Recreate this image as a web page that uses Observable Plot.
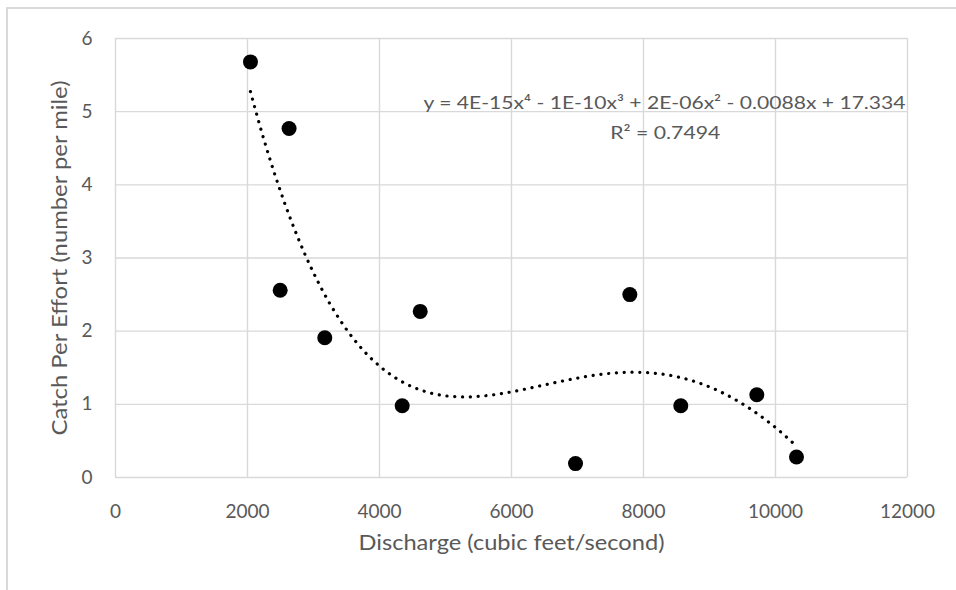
<!DOCTYPE html>
<html>
<head>
<meta charset="utf-8">
<script src="https://cdn.jsdelivr.net/npm/d3@7"></script>
<script src="https://cdn.jsdelivr.net/npm/@observablehq/plot@0.6"></script>
<style>
  html, body { margin: 0; padding: 0; background: #fff; overflow: hidden; width: 956px; height: 590px; }
  #frame { position: absolute; left: 6px; top: 7px; width: 1100px; height: 1100px; border: 2px solid #d9d9d9; box-sizing: border-box; }
  #chart { position: absolute; left: 0; top: 0; }
</style>
</head>
<body>
<div id="frame"></div>
<div id="chart"></div>
<script>
// Data
const discharge = [2045, 2630, 2495, 3171, 4344, 4617, 6970, 7793, 8565, 9717, 10318];
const cpue      = [5.68, 4.77, 2.56, 1.91, 0.98, 2.27, 0.19, 2.50, 0.98, 1.13, 0.28];
const xTicks = [0, 2000, 4000, 6000, 8000, 10000, 12000];
const yTicks = [0, 1, 2, 3, 4, 5, 6];
const equationText = "y = 4E-15x\u2074 - 1E-10x\u00B3 + 2E-06x\u00B2 - 0.0088x + 17.334";
const r2Text = "R\u00B2 = 0.7494";
const xTitle = "Discharge (cubic feet/second)";
const yTitle = "Catch Per Effort (number per mile)";

const points = discharge.map((x, i) => ({x, y: cpue[i]}));

// Least-squares polynomial (order 4) trendline, as the spreadsheet computes it
function polyfit(xs, ys, deg) {
  const s = 1000;
  const n = deg + 1;
  const A = Array.from({length: n}, () => new Array(n + 1).fill(0));
  xs.forEach((xv, k) => {
    const u = xv / s;
    for (let i = 0; i < n; i++) {
      for (let j = 0; j < n; j++) A[i][j] += Math.pow(u, i + j);
      A[i][n] += ys[k] * Math.pow(u, i);
    }
  });
  for (let c = 0; c < n; c++) {
    let p = c;
    for (let r = c + 1; r < n; r++) if (Math.abs(A[r][c]) > Math.abs(A[p][c])) p = r;
    [A[c], A[p]] = [A[p], A[c]];
    for (let r = 0; r < n; r++) {
      if (r === c) continue;
      const f = A[r][c] / A[c][c];
      for (let k = c; k <= n; k++) A[r][k] -= f * A[c][k];
    }
  }
  const coef = A.map((row, i) => row[n] / row[i]);
  return x => coef.reduce((acc, cc, i) => acc + cc * Math.pow(x / s, i), 0);
}
const fit = polyfit(discharge, cpue, 4);
const xmin = d3.min(discharge), xmax = d3.max(discharge);
const curve = d3.range(0, 201).map(i => {
  const x = xmin + (xmax - xmin) * i / 200;
  return {x, y: fit(x)};
});

const font = "Lato, 'Open Sans', sans-serif";
const grey = "#595959";

const chart = Plot.plot({
  width: 956,
  height: 590,
  marginLeft: 115,
  marginRight: 49,
  marginTop: 38,
  marginBottom: 113,
  style: {background: "transparent", fontFamily: font},
  x: {domain: [0, 12000]},
  y: {domain: [0, 6]},
  marks: [
    Plot.gridX(xTicks, {stroke: "#d9d9d9", strokeOpacity: 1, strokeWidth: 1.4}),
    Plot.gridY(yTicks, {stroke: "#d9d9d9", strokeOpacity: 1, strokeWidth: 1.4}),
    Plot.axisX(xTicks, {tickSize: 0, tickPadding: 27, fontSize: 19, fill: grey, label: null, tickFormat: d => String(d)}),
    Plot.axisY(yTicks, {tickSize: 0, tickPadding: 23, fontSize: 19, fill: grey, label: null, tickFormat: d => String(d)}),
    Plot.line(curve, {x: "x", y: "y", stroke: "#000", strokeWidth: 3.2, strokeDasharray: "0.1 7.7", strokeLinecap: "round"}),
    Plot.dot(points, {x: "x", y: "y", r: 7.5, fill: "#000", stroke: "none"}),
    Plot.text([equationText], {x: 8318, y: 5.11, text: d => d, fontSize: 18, fill: grey, textAnchor: "middle", lineAnchor: "middle"}),
    Plot.text([r2Text], {x: 8330, y: 4.70, text: d => d, fontSize: 18, fill: grey, textAnchor: "middle", lineAnchor: "middle"}),
    Plot.text([xTitle], {frameAnchor: "bottom", dy: 66, text: d => d, fontSize: 21, fill: grey, textAnchor: "middle", lineAnchor: "middle"}),
    Plot.text([yTitle], {frameAnchor: "left", dx: -55, rotate: -90, text: d => d, fontSize: 21, fill: grey, textAnchor: "middle", lineAnchor: "middle"})
  ]
});
document.getElementById("chart").appendChild(chart);

// Match the condensed widths of the original typeface
const targetWidths = new Map([[equationText, 482], [r2Text, 110], [xTitle, 306], [yTitle, 355]]);
chart.querySelectorAll("text").forEach(t => {
  const w = targetWidths.get(t.textContent);
  if (w) {
    t.setAttribute("textLength", w);
    t.setAttribute("lengthAdjust", "spacingAndGlyphs");
  }
});
</script>
</body>
</html>
